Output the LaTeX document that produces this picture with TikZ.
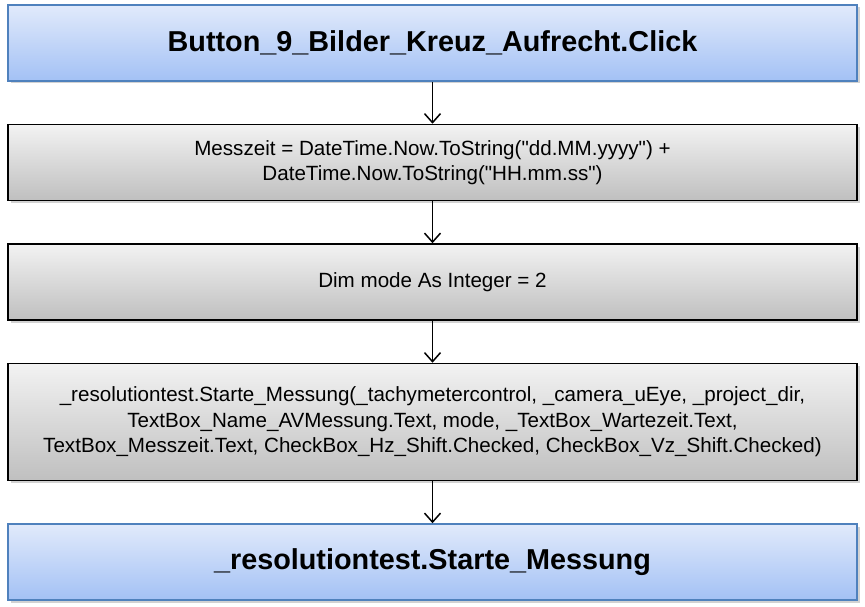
\documentclass[tikz,border=0pt]{standalone}
\usepackage{fontspec}
\setmainfont{Liberation Sans}
\usetikzlibrary{positioning,shadows,arrows.meta}
\definecolor{blaurand}{HTML}{4F81BD}
\definecolor{blauoben}{HTML}{E1EAFB}
\definecolor{blauunten}{HTML}{A3C1F5}

\begin{document}
\begin{tikzpicture}[x=1pt,y=1pt,node distance=42pt,        ereignis/.style={rectangle,draw=blaurand,line width=1.5pt,top color=blauoben,bottom color=blauunten,minimum width=849pt,minimum height=76pt,font=\fontsize{28.8}{34}\selectfont\bfseries,drop shadow={shadow xshift=2.5pt,shadow yshift=-2.5pt,fill=black!35}},      schritt/.style={rectangle,draw=black,line width=1.5pt,top color=black!5,bottom color=black!25,minimum width=849pt,minimum height=76pt,align=center,font=\fontsize{20.6}{25.5}\selectfont,drop shadow={shadow xshift=2.5pt,shadow yshift=-2.5pt,fill=black!35}},       pfeil/.style={-{Straight Barb[length=9pt,width=16pt,line width=1.5pt]},line width=1.5pt}  ]
    \useasboundingbox (0,0) rectangle (865,-607);
    \node[ereignis] (klick) at (432.5,-43) {Button\_9\_Bilder\_Kreuz\_Aufrecht.Click};
    \node[schritt,below=of klick] (messzeit) {Messzeit = DateTime.Now.ToString(\textquotedbl dd.MM.yyyy\textquotedbl) +\\DateTime.Now.ToString(\textquotedbl HH.mm.ss\textquotedbl)};
    \node[schritt,below=of messzeit] (modus) {Dim mode As Integer = 2};
    \node[schritt,below=of modus,minimum height=117pt] (aufruf) {\_resolutiontest.Starte\_Messung(\_tachymetercontrol, \_camera\_uEye, \_project\_dir,\\TextBox\_Name\_AVMessung.Text, mode, \_TextBox\_Wartezeit.Text,\\TextBox\_Messzeit.Text, CheckBox\_Hz\_Shift.Checked, CheckBox\_Vz\_Shift.Checked)};
    \node[ereignis,below=of aufruf] (starte) {\_resolutiontest.Starte\_Messung};
    % Pfeile
    \foreach \a/\b in {klick/messzeit,messzeit/modus,modus/aufruf,aufruf/starte}
        \draw[pfeil] (\a) -- (\b);
\end{tikzpicture}
\end{document}
